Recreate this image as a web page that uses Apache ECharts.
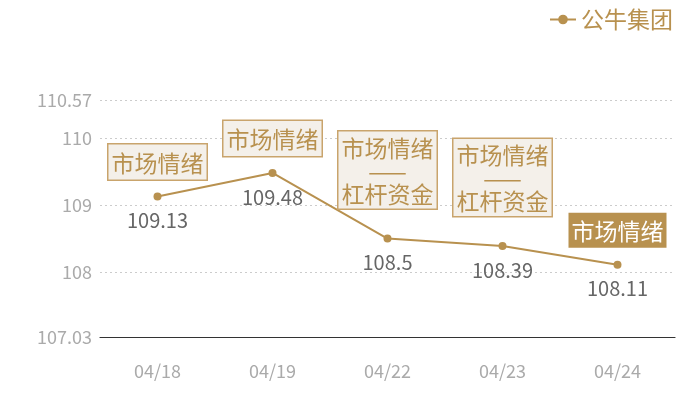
<!DOCTYPE html>
<html>
<head>
<meta charset="utf-8">
<script src="https://cdn.jsdelivr.net/npm/echarts@6/dist/echarts.min.js"></script>
<style>
  html, body { margin: 0; padding: 0; background: #fff; }
  #main { width: 700px; height: 400px; }
</style>
</head>
<body>
<div id="main"></div>
<script>
// 数据
var dates = ['04/18', '04/19', '04/22', '04/23', '04/24'];
var values = [109.13, 109.48, 108.5, 108.39, 108.11];
var notes = ['市场情绪', '市场情绪', '市场情绪\n——\n杠杆资金', '市场情绪\n——\n杠杆资金', '市场情绪'];
var highlight = [false, false, false, false, true];
var yMin = 107.03;
var yMax = 110.57;
var seriesName = '公牛集团';

var gold = '#b8914f';
var font = 'Noto Sans CJK SC';

// 注释框
var noteData = values.map(function (v, i) {
    var twoLine = notes[i].indexOf('\n') >= 0;
    var label = {
        show: true,
        position: 'top',
        distance: twoLine ? 30 : 17,
        formatter: notes[i],
        fontFamily: font,
        fontSize: 23,
        lineHeight: twoLine ? 23 : 27,
        padding: [5, 3, 3, 3],
        color: gold,
        backgroundColor: '#f4f0ea',
        borderColor: '#c9a46c',
        borderWidth: 1.5
    };
    if (highlight[i]) {
        label.color = '#fff';
        label.backgroundColor = gold;
        label.borderWidth = 0;
    }
    return { value: v, label: label };
});

var myChart = echarts.init(document.getElementById('main'));
myChart.setOption({
    animation: false,
    textStyle: { fontFamily: font },
    grid: { left: 100, right: 25, top: 100, bottom: 63 },
    legend: {
        data: [seriesName],
        right: 22,
        top: 3,
        itemWidth: 26,
        itemHeight: 12,
        itemGap: 6,
        textStyle: { color: gold, fontSize: 23, fontFamily: font }
    },
    xAxis: {
        type: 'category',
        data: dates,
        axisTick: { show: false },
        axisLine: { lineStyle: { color: '#333', width: 1.2 } },
        axisLabel: { color: '#aaa', fontSize: 18, margin: 25, fontFamily: font }
    },
    yAxis: {
        type: 'value',
        min: yMin,
        max: yMax,
        axisLine: { show: false },
        axisTick: { show: false },
        axisLabel: { color: '#aaa', fontSize: 18, margin: 8, fontFamily: font },
        splitLine: { lineStyle: { color: '#ccc', type: [2, 3] } }
    },
    series: [{
        name: seriesName,
        type: 'line',
        data: values,
        symbol: 'circle',
        symbolSize: 8,
        itemStyle: { color: gold },
        lineStyle: { color: gold, width: 2 },
        label: {
            show: true,
            position: 'bottom',
            distance: 10,
            color: '#666',
            fontSize: 20,
            fontFamily: font
        }
    }, {
        name: 'notes',
        type: 'scatter',
        data: noteData,
        symbolSize: 0,
        itemStyle: { opacity: 1 },
        silent: true,
        z: 5
    }]
});
</script>
</body>
</html>
